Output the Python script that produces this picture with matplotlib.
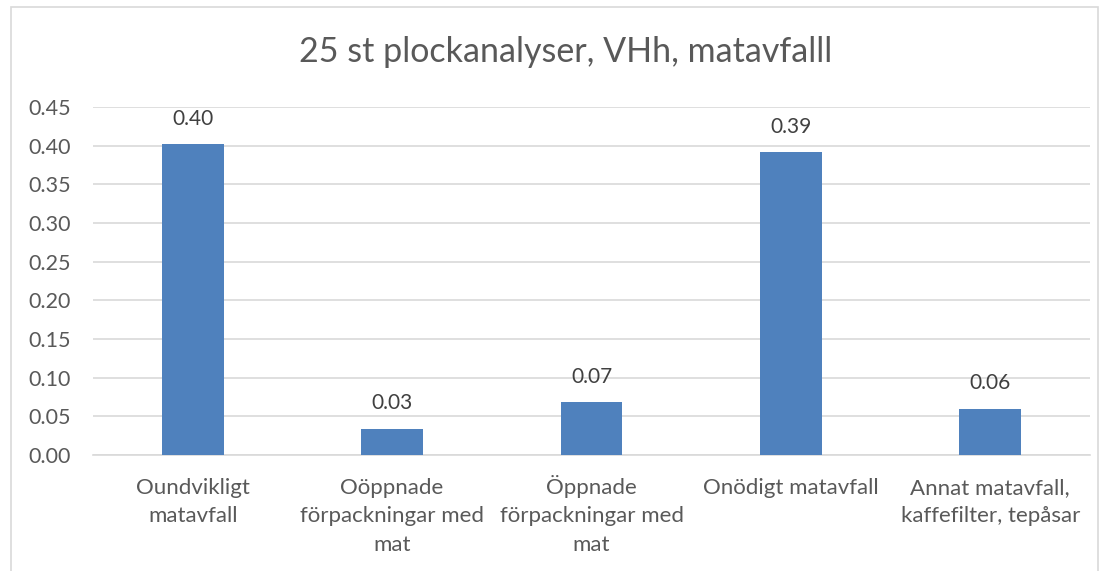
import matplotlib
matplotlib.use("Agg")
import matplotlib.pyplot as plt
from matplotlib.patches import Rectangle
from matplotlib.transforms import blended_transform_factory

categories = ["Oundvikligt\nmatavfall", "Oöppnade\nförpackningar med\nmat",
              "Öppnade\nförpackningar med\nmat", "Onödigt matavfall",
              "Annat matavfall,\nkaffefilter, tepåsar"]
values = [0.402, 0.034, 0.068, 0.392, 0.060]
value_labels = ["0.40", "0.03", "0.07", "0.39", "0.06"]
yticks = [0.00, 0.05, 0.10, 0.15, 0.20, 0.25, 0.30, 0.35, 0.40, 0.45]
title = "25 st plockanalyser, VHh, matavfalll"

plt.rcParams['font.family'] = ['Lato', 'DejaVu Sans']
txt = '#595959'
fig = plt.figure(figsize=(11.08, 5.71), dpi=100)
fig.patch.set_facecolor('white')
fig.patches.append(Rectangle((11/1108, -0.05), (1098-11)/1108, 1 - 7/571 + 0.05,
                             transform=fig.transFigure, fill=False,
                             edgecolor='#D9D9D9', linewidth=1.2))
ax_h = 455 - 107
ax = fig.add_axes([93/1108, 1-455/571, (1090-93)/1108, ax_h/571])
x = list(range(len(categories)))
ax.bar(x, values, width=0.31, color='#4F81BD', zorder=3)
for xi, v, lab in zip(x, values, value_labels):
    ax.annotate(lab, (xi, v), xytext=(0, 11), textcoords='offset points',
                ha='center', va='bottom', fontsize=15, color='#404040')
ax.set_xlim(-0.5, len(categories) - 0.5)
ax.set_ylim(0, 0.45)
ax.set_yticks(yticks)
ax.set_yticklabels([f"{t:.2f}" for t in yticks], fontsize=15.5, color=txt)
ax.set_xticks(x)
ax.set_xticklabels([])
trans = blended_transform_factory(ax.transData, ax.transAxes)
for xi, c in zip(x, categories):
    for i, line in enumerate(c.split("\n")):
        ax.text(xi, -(39 + 28.5 * i) / ax_h, line, transform=trans,
                ha='center', va='baseline', fontsize=16, color=txt)
ax.tick_params(axis='both', length=0)
ax.tick_params(axis='y', pad=16)
ax.grid(axis='y', color='#D9D9D9', linewidth=1.2, zorder=0)
for s in ['top', 'right', 'left']:
    ax.spines[s].set_visible(False)
ax.spines['bottom'].set_color('#D9D9D9')
ax.spines['bottom'].set_linewidth(1.2)
fig.text(566/1108, 1-52/571, title, ha='center', va='center', fontsize=24.5, color=txt)
fig.savefig('out.png', dpi=100, facecolor='white')
